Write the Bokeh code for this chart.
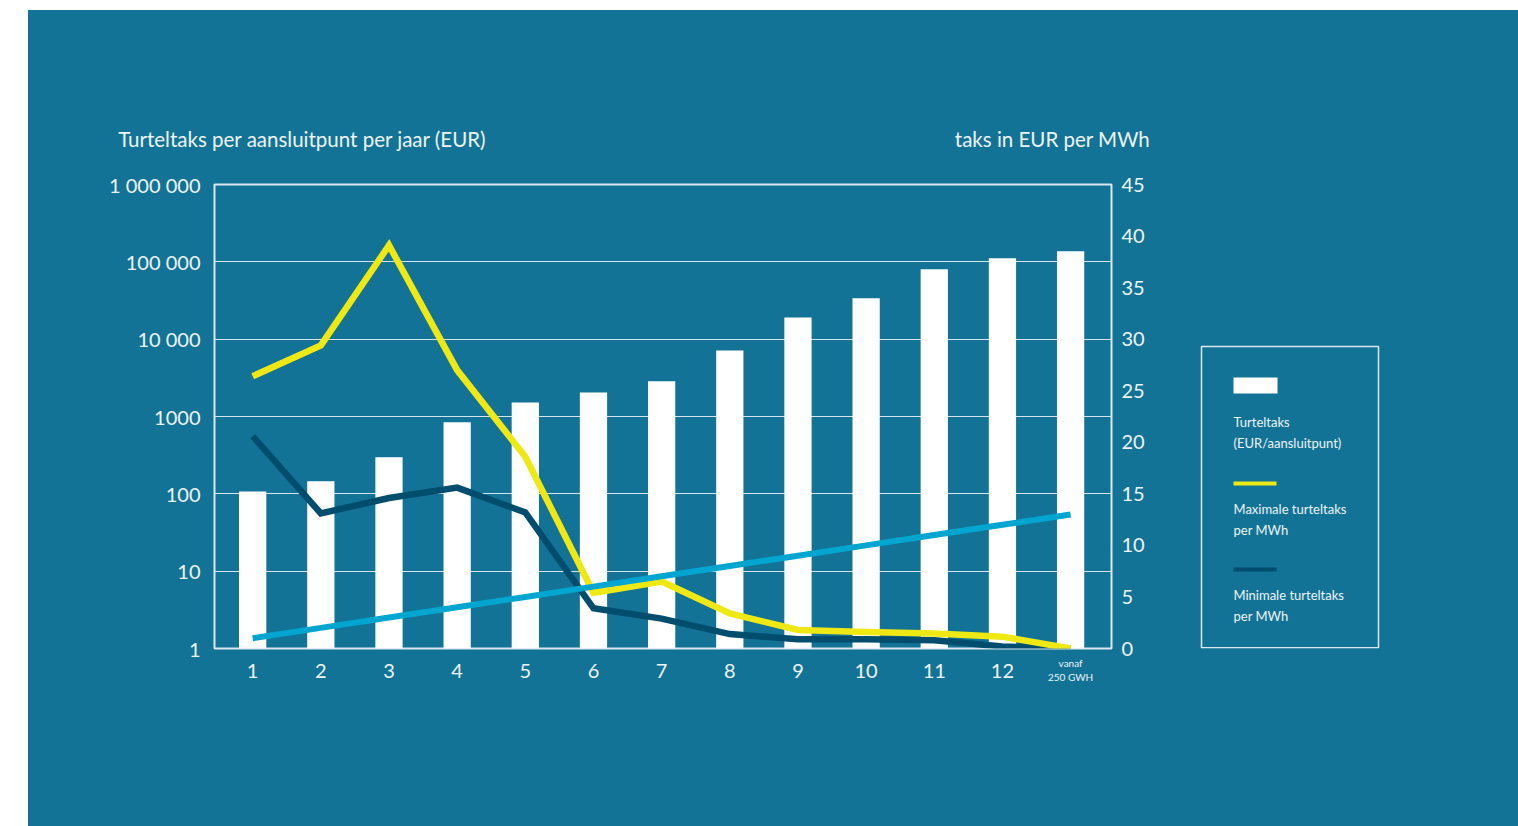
from bokeh.plotting import figure
from bokeh.models import (Range1d, LinearAxis, LinearScale, FixedTicker, Spacer,
                          CustomJSTickFormatter)
from bokeh.layouts import row, column
from bokeh.embed import file_html
from bokeh.resources import INLINE
from bokeh.core.properties import value

# ---------------- data ----------------
categories = ["1", "2", "3", "4", "5", "6", "7", "8", "9", "10", "11", "12", "vanaf\n250 GWH"]
cat_pos = [1, 2, 3, 4, 5, 6, 7, 8, 9, 10, 11, 12, 13]
turteltaks_eur = [107, 145, 297, 840, 1520, 2050, 2850, 7160, 19100, 33700, 80000, 111000, 137000]
max_per_mwh = [26.4, 29.4, 39.1, 27.0, 18.6, 5.4, 6.5, 3.4, 1.8, 1.6, 1.45, 1.15, 0.0]
min_per_mwh = [20.6, 13.1, 14.6, 15.6, 13.2, 3.9, 2.9, 1.4, 0.9, 0.9, 0.8, 0.2, 0.0]
ref_line = [1.0, 2.0, 3.0, 4.0, 5.0, 6.0, 7.0, 8.0, 9.0, 10.0, 11.0, 12.0, 13.0]
left_ticks = [1, 10, 100, 1000, 10000, 100000, 1000000]
left_tick_labels = ["1", "10", "100", "1000", "10 000", "100 000", "1 000 000"]
right_ticks = [0, 5, 10, 15, 20, 25, 30, 35, 40, 45]
axis_titles = ["Turteltaks per aansluitpunt per jaar (EUR)", "taks in EUR per MWh"]
legend_labels = ["Turteltaks\n(EUR/aansluitpunt)", "Maximale turteltaks\nper MWh",
                 "Minimale turteltaks\nper MWh"]

BG = "#137396"
YELLOW = "#EEE814"
DARK = "#004D6E"
LIGHT = "#00A6CF"
TXT = "#EEF3F6"
FRAME = "#DCE8EE"
FONT = "Lato"

# page layout: figure origin at page (28, 10); plot frame spans x 214..1111, y 184..648
FX0, FX1, FY1, FY0 = 214, 1111, 184, 648
XMIN, XMAX = 0.44, 13.6
def xdata(px):
    return XMIN + (px - FX0) * (XMAX - XMIN) / (FX1 - FX0)

# ---------------- main figure ----------------
W, H = 1152, 816
p = figure(width=W, height=H, output_backend="svg", toolbar_location=None,
           x_range=Range1d(XMIN, XMAX), y_range=Range1d(1, 1000000),
           y_axis_type="log",
           min_border_left=FX0 - 28, min_border_right=28 + W - FX1,
           min_border_top=FY1 - 10, min_border_bottom=10 + H - FY0)
p.background_fill_color = BG
p.border_fill_color = BG
p.outline_line_color = FRAME
p.outline_line_width = 2

p.extra_y_ranges = {"mwh": Range1d(0, 45)}
p.extra_y_scales = {"mwh": LinearScale()}

p.xgrid.grid_line_color = None
p.ygrid.grid_line_color = "#D6E5EC"
p.ygrid.grid_line_width = 1
p.ygrid.ticker = FixedTicker(ticks=left_ticks)

ya = p.yaxis[0]
ya.ticker = FixedTicker(ticks=left_ticks)
ya.formatter = CustomJSTickFormatter(
    args=dict(tv=left_ticks, lbl=left_tick_labels),
    code="const i = tv.indexOf(Math.round(tick)); return i >= 0 ? lbl[i] : '';")

xa = p.xaxis[0]
xa.ticker = FixedTicker(ticks=cat_pos)
xa.formatter = CustomJSTickFormatter(
    args=dict(tv=cat_pos, lbl=categories),
    code="const i = tv.indexOf(Math.round(tick)); "
         "return (i >= 0 && lbl[i].indexOf('\\n') < 0) ? lbl[i] : '';")

ra = LinearAxis(y_range_name="mwh", ticker=FixedTicker(ticks=right_ticks))
p.add_layout(ra, "right")

# small two-line label under the last category
xa2 = LinearAxis(ticker=FixedTicker(ticks=[cat_pos[-1]]),
                 formatter=CustomJSTickFormatter(args=dict(lbl=categories),
                                                 code="return lbl[lbl.length - 1];"))
p.add_layout(xa2, "below")

# axis titles above the frame
ta = LinearAxis(ticker=FixedTicker(ticks=[xdata(302), xdata(1052)]),
                formatter=CustomJSTickFormatter(args=dict(lbl=axis_titles),
                                                code="return lbl[index];"))
p.add_layout(ta, "above")

for ax, standoff, size in ((ya, 14, "20px"), (xa, 15, "20px"), (ra, 10, "20px"),
                           (xa2, -24, "10px"), (ta, 34, "20.5px")):
    ax.axis_line_color = None
    ax.major_tick_line_color = None
    ax.minor_tick_line_color = None
    ax.major_tick_in = 0
    ax.major_tick_out = 0
    ax.major_label_text_font = FONT
    ax.major_label_text_font_size = size
    ax.major_label_text_color = TXT
    ax.major_label_standoff = standoff

p.vbar(x=cat_pos, top=turteltaks_eur, bottom=1, width=0.4,
       fill_color="white", line_color=None)

p.line(cat_pos, min_per_mwh, y_range_name="mwh", line_color=DARK, line_width=6.5, line_join="miter")
p.line(cat_pos, max_per_mwh, y_range_name="mwh", line_color=YELLOW, line_width=6.5, line_join="miter")
p.line(cat_pos, ref_line, y_range_name="mwh", line_color=LIGHT, line_width=6)

# ---------------- legend figure (page pixel coordinates) ----------------
LX0 = 28 + W
LW = 1518 - LX0
leg = figure(width=LW, height=H, output_backend="svg", toolbar_location=None,
             x_range=Range1d(LX0, LX0 + LW), y_range=Range1d(FY0, FY1),
             min_border_left=0, min_border_right=0,
             min_border_top=FY1 - 10, min_border_bottom=10 + H - FY0)
leg.axis.visible = False
leg.grid.visible = False
leg.background_fill_color = BG
leg.border_fill_color = BG
leg.outline_line_color = BG
leg.outline_line_width = 2

leg.quad(left=[1201], right=[1378], top=[346], bottom=[647.2],
         fill_color=None, line_color=FRAME, line_width=1.5)
leg.quad(left=[1233], right=[1277], top=[377], bottom=[393],
         fill_color="white", line_color=None)
leg.segment(x0=[1233], x1=[1276], y0=[483], y1=[483], line_color=YELLOW, line_width=4)
leg.segment(x0=[1233], x1=[1276], y0=[569], y1=[569], line_color=DARK, line_width=4)
leg_lines = []
for lab in legend_labels:
    leg_lines.extend(lab.split("\n"))
leg_y = [421, 442, 508, 529, 594, 615]
leg.text(x=[1233] * len(leg_lines), y=leg_y, text=leg_lines,
         text_font=value(FONT), text_font_size="13px", text_color=TXT,
         text_align="left", text_baseline="middle")

inner = row(p, leg, styles={"background-color": BG})
layout = row(Spacer(width=28), column(Spacer(height=10), inner))
open("out.html", "w").write(file_html(layout, INLINE))
